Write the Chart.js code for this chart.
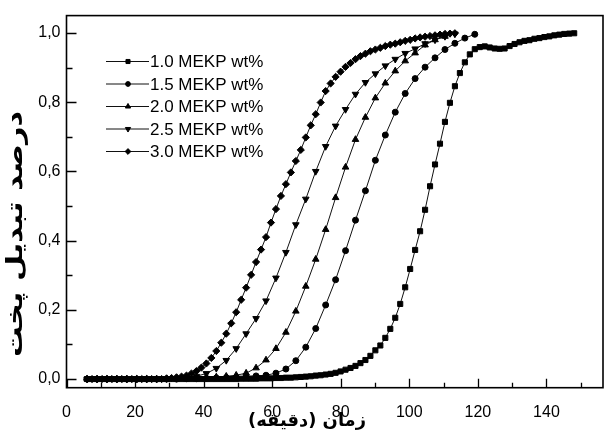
<!DOCTYPE html>
<html>
<head>
<meta charset="utf-8">
<script src="https://cdn.jsdelivr.net/npm/chart.js@4.4.1/dist/chart.umd.min.js"></script>
<style>
    html, body { margin: 0; padding: 0; background: #fff; }
    #wrap { width: 608px; height: 432px; }
</style>
</head>
<body>
<div id="wrap"><canvas id="chart" width="608" height="432"></canvas></div>
<script>
// Sampling times (min): fine grid for 1.0 / 3.0, coarse grid for 1.5 / 2.0 / 2.5
const timeFine = [
    6.00, 7.45, 8.90, 10.35, 11.80, 13.25, 14.70, 16.15, 17.60, 19.05,
    20.50, 21.95, 23.40, 24.85, 26.30, 27.75, 29.20, 30.65, 32.10, 33.55,
    35.00, 36.45, 37.90, 39.35, 40.80, 42.25, 43.70, 45.15, 46.60, 48.05,
    49.50, 50.95, 52.40, 53.85, 55.30, 56.75, 58.20, 59.65, 61.10, 62.55,
    64.00, 65.45, 66.90, 68.35, 69.80, 71.25, 72.70, 74.15, 75.60, 77.05,
    78.50, 79.95, 81.40, 82.85, 84.30, 85.75, 87.20, 88.65, 90.10, 91.55,
    93.00, 94.45, 95.90, 97.35, 98.80, 100.25, 101.70, 103.15, 104.60, 106.05,
    107.50, 108.95, 110.40, 111.85, 113.30, 114.75, 116.20, 117.65, 119.10, 120.55,
    122.00, 123.45, 124.90, 126.35, 127.80, 129.25, 130.70, 132.15, 133.60, 135.05,
    136.50, 137.95, 139.40, 140.85, 142.30, 143.75, 145.20, 146.65, 148.10
];
const timeCoarse = [
    6.0, 8.9, 11.8, 14.7, 17.6, 20.5, 23.4, 26.3, 29.2, 32.1,
    35.0, 37.9, 40.8, 43.7, 46.6, 49.5, 52.4, 55.3, 58.2, 61.1,
    64.0, 66.9, 69.8, 72.7, 75.6, 78.5, 81.4, 84.3, 87.2, 90.1,
    93.0, 95.9, 98.8, 101.7, 104.6, 107.5, 110.4, 113.3, 116.2, 119.1
];

const seriesLabels = ['1.0 MEKP wt%', '1.5 MEKP wt%', '2.0 MEKP wt%', '2.5 MEKP wt%', '3.0 MEKP wt%'];

// Cure conversion (fraction)
const conv10 = [
    0, 0, 0, 0, 0, 0, 0, 0, 0, 0,
    0, 0, 0, 0, 0, 0, 0, 0, 0, 0,
    0, 0, 0, 0, 0, 0, 0, 0, 0, 0,
    0, 0.001, 0.001, 0.001, 0.001, 0.002, 0.002, 0.002, 0.003, 0.003,
    0.004, 0.004, 0.005, 0.006, 0.007, 0.008, 0.010, 0.011, 0.013, 0.015,
    0.018, 0.022, 0.027, 0.032, 0.038, 0.046, 0.055, 0.067, 0.083, 0.097,
    0.119, 0.145, 0.177, 0.217, 0.265, 0.318, 0.373, 0.427, 0.489, 0.557,
    0.620, 0.680, 0.743, 0.798, 0.846, 0.884, 0.915, 0.938, 0.953, 0.959,
    0.961, 0.958, 0.955, 0.954, 0.955, 0.962, 0.968, 0.973, 0.977, 0.979,
    0.983, 0.985, 0.988, 0.990, 0.993, 0.995, 0.997, 0.998, 0.999
];
const conv15 = [
    0, 0, 0, 0, 0, 0, 0, 0, 0, 0,
    0.001, 0.001, 0.002, 0.003, 0.004, 0.005, 0.007, 0.009, 0.011, 0.017,
    0.029, 0.053, 0.092, 0.146, 0.214, 0.287, 0.371, 0.459, 0.544, 0.632,
    0.705, 0.771, 0.825, 0.868, 0.901, 0.928, 0.952, 0.970, 0.985, 0.996
];
const conv20 = [
    0, 0, 0, 0, 0, 0, 0, 0, 0, 0.001,
    0.002, 0.003, 0.004, 0.006, 0.008, 0.011, 0.017, 0.032, 0.055, 0.088,
    0.135, 0.196, 0.268, 0.346, 0.432, 0.524, 0.612, 0.692, 0.756, 0.812,
    0.855, 0.890, 0.919, 0.942, 0.965, 0.980, 0.990
];
const conv25 = [
    0, 0, 0, 0, 0, 0, 0, 0, 0.001, 0.002,
    0.004, 0.008, 0.016, 0.031, 0.054, 0.088, 0.131, 0.175, 0.226, 0.292,
    0.366, 0.446, 0.520, 0.600, 0.672, 0.731, 0.779, 0.823, 0.857, 0.882,
    0.905, 0.924, 0.941, 0.954, 0.969, 0.980, 0.990, 0.997
];
const conv30 = [
    0, 0, 0, 0, 0, 0, 0, 0, 0, 0,
    0, 0, 0, 0, 0, 0, 0.002, 0.003, 0.005, 0.007,
    0.010, 0.016, 0.023, 0.033, 0.045, 0.061, 0.081, 0.105, 0.131, 0.161,
    0.193, 0.229, 0.264, 0.301, 0.338, 0.374, 0.410, 0.452, 0.491, 0.529,
    0.563, 0.597, 0.630, 0.662, 0.698, 0.733, 0.765, 0.799, 0.832, 0.854,
    0.873, 0.888, 0.902, 0.913, 0.924, 0.933, 0.940, 0.947, 0.952, 0.957,
    0.962, 0.966, 0.969, 0.973, 0.977, 0.980, 0.984, 0.987, 0.989, 0.991,
    0.993, 0.995, 0.997, 0.998, 0.999
];

// Axes
const xTicks = [0, 20, 40, 60, 80, 100, 120, 140];
const xMinorTicks = [10, 30, 50, 70, 90, 110, 130, 150];
const yTicks = [0, 0.2, 0.4, 0.6, 0.8, 1.0];
const yMinorTicks = [0.1, 0.3, 0.5, 0.7, 0.9];
const xTitle = 'زمان (دقیقه)';
const yTitle = 'درصد تبدیل پخت';

const LABEL_FONT = '"Liberation Sans", Arial, sans-serif';
const TITLE_FONT = '"DejaVu Sans", sans-serif';

function toPoints(xs, ys) {
    return ys.map((y, i) => ({ x: xs[i], y: y }));
}

function makeDataset(label, xs, ys, pointStyle, radius, rotation) {
    return {
        label: label,
        data: toPoints(xs, ys),
        borderColor: '#111',
        borderWidth: 1,
        backgroundColor: '#000',
        pointStyle: pointStyle,
        pointRadius: radius,
        pointRotation: rotation || 0,
        pointBorderWidth: 1,
        pointBorderColor: '#000',
        pointBackgroundColor: '#000',
        tension: 0,
        fill: false
    };
}

const datasets = [
    makeDataset(seriesLabels[0], timeFine, conv10, 'rect', 3.6),
    makeDataset(seriesLabels[1], timeCoarse, conv15, 'circle', 3),
    makeDataset(seriesLabels[2], timeCoarse, conv20, 'triangle', 3.8),
    makeDataset(seriesLabels[3], timeCoarse, conv25, 'triangle', 3.8, 180),
    makeDataset(seriesLabels[4], timeFine, conv30, 'rectRot', 3.6)
];

// Draws text centred at (0,0), squeezed or stretched to a given length
function fitText(ctx, text, length) {
    const w = ctx.measureText(text).width;
    ctx.save();
    ctx.scale(length / w, 1);
    ctx.fillText(text, 0, 0);
    ctx.restore();
}

// Frame, inward tick marks, line+marker legend and the two Persian titles
const decorPlugin = {
    id: 'decor',
    afterDraw(chart) {
        const ctx = chart.ctx;
        const area = chart.chartArea;
        const xs = chart.scales.x;
        const ys = chart.scales.y;

        ctx.save();
        ctx.strokeStyle = '#000';
        ctx.lineWidth = 1.6;
        ctx.strokeRect(area.left, area.top, area.right - area.left, area.bottom - area.top);

        ctx.lineWidth = 1.3;
        ctx.beginPath();
        xTicks.forEach(v => {
            const px = Math.round(xs.getPixelForValue(v)) + 0.5;
            ctx.moveTo(px, area.bottom); ctx.lineTo(px, area.bottom - 9);
        });
        xMinorTicks.forEach(v => {
            const px = Math.round(xs.getPixelForValue(v)) + 0.5;
            ctx.moveTo(px, area.bottom); ctx.lineTo(px, area.bottom - 5);
        });
        yTicks.forEach(v => {
            const py = Math.round(ys.getPixelForValue(v)) + 0.5;
            ctx.moveTo(area.left, py); ctx.lineTo(area.left + 10, py);
        });
        yMinorTicks.forEach(v => {
            const py = Math.round(ys.getPixelForValue(v)) + 0.5;
            ctx.moveTo(area.left, py); ctx.lineTo(area.left + 6, py);
        });
        ctx.stroke();

        // legend
        ctx.font = '17px ' + LABEL_FONT;
        ctx.textBaseline = 'middle';
        ctx.textAlign = 'left';
        chart.data.datasets.forEach((ds, i) => {
            const y = 61.5 + i * 22.5;
            ctx.strokeStyle = '#111';
            ctx.lineWidth = 1;
            ctx.beginPath();
            ctx.moveTo(106, y); ctx.lineTo(149, y);
            ctx.stroke();
            ctx.fillStyle = '#000';
            ctx.strokeStyle = '#000';
            Chart.helpers.drawPoint(ctx, {
                pointStyle: ds.pointStyle,
                rotation: ds.pointRotation,
                radius: ds.pointRadius * 0.8,
                borderWidth: 1
            }, 128, y);
            ctx.fillStyle = '#000';
            ctx.fillText(ds.label, 150, y + 1);
        });

        // titles
        ctx.fillStyle = '#000';
        ctx.direction = 'rtl';
        ctx.textAlign = 'center';

        ctx.save();
        ctx.font = 'bold 18px ' + TITLE_FONT;
        ctx.textBaseline = 'alphabetic';
        ctx.translate(307, 426);
        fitText(ctx, xTitle, 118);
        ctx.restore();

        ctx.save();
        ctx.font = 'bold 23px ' + TITLE_FONT;
        ctx.textBaseline = 'middle';
        ctx.translate(16, 234);
        ctx.rotate(-Math.PI / 2);
        fitText(ctx, yTitle, 246);
        ctx.restore();

        ctx.restore();
    }
};

const chart = new Chart(document.getElementById('chart').getContext('2d'), {
    type: 'line',
    data: { datasets: datasets },
    options: {
        responsive: false,
        animation: false,
        devicePixelRatio: 1,
        layout: { padding: { top: 11.7, right: 1, left: 0, bottom: 0 } },
        plugins: {
            legend: { display: false },
            tooltip: { enabled: false }
        },
        scales: {
            x: {
                type: 'linear',
                min: 0,
                max: 156.5,
                afterBuildTicks: scale => { scale.ticks = xTicks.map(v => ({ value: v })); },
                afterFit: scale => { scale.height = 44.3; },
                ticks: {
                    color: '#000',
                    padding: 15,
                    maxRotation: 0,
                    autoSkip: false,
                    font: { size: 16, family: LABEL_FONT }
                },
                grid: { display: false, drawTicks: false },
                border: { display: false }
            },
            y: {
                type: 'linear',
                min: -0.025,
                max: 1.05,
                afterBuildTicks: scale => { scale.ticks = yTicks.map(v => ({ value: v })); },
                afterFit: scale => { scale.width = 66.5; },
                ticks: {
                    color: '#000',
                    padding: 6,
                    autoSkip: false,
                    font: { size: 16, family: LABEL_FONT },
                    callback: value => value.toFixed(1).replace('.', ',')
                },
                grid: { display: false, drawTicks: false },
                border: { display: false }
            }
        }
    },
    plugins: [decorPlugin]
});
</script>
</body>
</html>
